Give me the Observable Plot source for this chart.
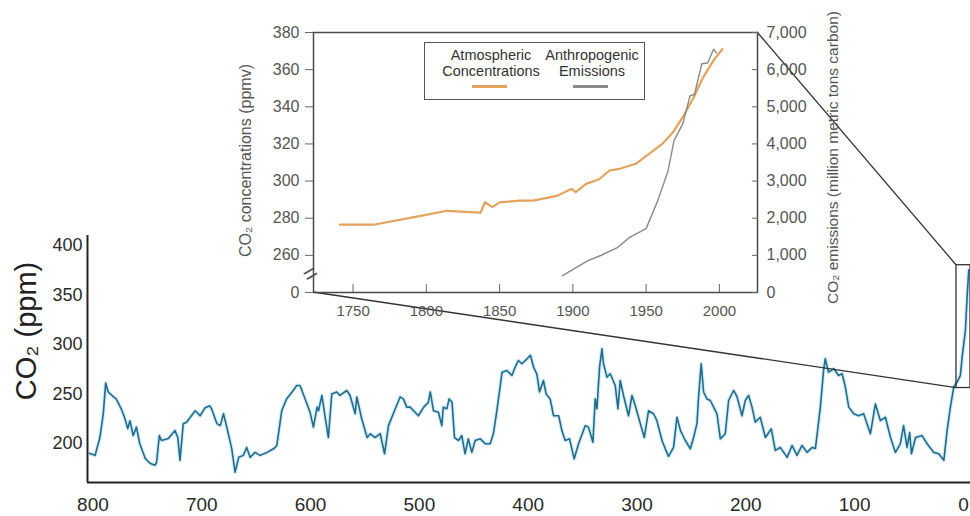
<!DOCTYPE html>
<html>
<head>
<meta charset="utf-8">
<script src="https://cdn.jsdelivr.net/npm/d3@7"></script>
<script src="https://cdn.jsdelivr.net/npm/@observablehq/plot@0.6"></script>
<style>
  body { margin: 0; background: #fff; font-family: "Liberation Sans", Arial, sans-serif; }
  #wrap { position: relative; width: 970px; height: 516px; overflow: hidden; background: #fff; }
  #main { position: absolute; left: 0; top: 0; }
  #inset { position: absolute; left: 230px; top: 0; }
  #legend { position: absolute; left: 424px; top: 42px; width: 221px; height: 58px; border: 1.5px solid #555;
            box-sizing: border-box; font-size: 14.5px; color: #333; background: transparent; }
  #legend .col { position: absolute; top: 4px; width: 104px; text-align: center; line-height: 16px; }
  #legend .sw { position: absolute; height: 2.5px; width: 35px; }
</style>
</head>
<body>
<div id="wrap">
  <div id="main"></div>
  <div id="inset"></div>
  <div id="legend"></div>
</div>
<script>
// ---- Main chart: ice-core CO2, thousands of years before present ----
const kyrBP = [803,798,793.6,790.5,788.3,786,781,778.6,774,771,768,766,763,760,757,752,747.6,743,741.5,739,737,730.7,724.6,722,720,717,714,706,701.5,697,692.5,691,686,683,680,677,672.5,669.4,666,661.8,658.7,655.6,651,646.4,640,634,631,626.5,622,617,612.7,609.7,605,600.5,597.4,594,592.7,589.6,586.6,583.6,580.5,576,573,566.7,563.7,559,557.5,553,548,545,540.7,536,532,528.4,524,517.7,514.7,511.6,508.5,500.9,496,491.7,490,487,482.5,479.4,478,474.8,472.6,470,467.7,464,461,458,455,451.8,448.7,444,439.5,435,432,428.8,424,419.6,415,412,409,405.8,401,398,395,392,389.6,386,383.5,379.8,376.7,372,369,366,362,357.7,353.7,347.6,344.6,340.5,338.4,336.8,334.4,332.2,330.8,327.6,324.6,320,317.5,315.4,312.4,307.8,304.6,301.6,298.6,293.3,289.4,284.8,281.7,277,274,271,266.4,263.3,260,255.6,251,248,244.9,243.4,241,238.8,235.7,232.6,229.6,226.5,223.4,218.9,215.8,211.2,208,203.5,200.5,197.4,194.3,191.3,186.7,182,176.6,172.9,168.3,162,157.5,153,148.3,143.7,139,136,131.5,128.5,127,124,119,114.7,111.5,108.5,105.4,100.8,96.3,91.7,85.5,80.9,76.3,71.7,67,62.5,58,55,51.8,49.4,47.8,44,38,33.4,27.2,22.7,18,15,12,8.9,5.8,2.8,1.2,-1.8,-3.4,-4.9];
const co2ppm = [190,188,206,230,261,252,247,245,235,226.5,215,223,208,216.5,200,185,180,178,181,208,203,205,213,206,183,220,221.5,233,228,236,238,235,220,218,230,216.5,195,171,186,188,196,186,191,188,191,194.6,198,233,245,252,258.6,258.6,245,231.6,216.5,236.7,233,248.5,226.5,206,250,252,248.5,253.5,248.5,230,247,225,206,209.8,206,210,189.6,218,230,247,245,236.7,236.7,228,236.7,241.7,252,233,231.6,218,236.7,235,245,241.7,206,203,208,189.6,204.7,191,203,204.7,199.7,199.7,209.8,233,272,273.7,268.7,277,283.8,280.5,285.5,289,277,270,252,263.6,250,245,228,228,213,203,204.7,184.5,199.7,218,216.5,201.3,245,235,277,295.6,280.5,267,270.4,258.6,235,263.6,248.5,228,248.5,238.4,226.5,206,233,230,223,203,194.6,187,196,226.5,213,203,194.6,206,220,247,280.5,252,245,243.4,236.7,230,204.7,209.8,243.4,253.5,247,228,243.4,248.5,236.7,221.5,226.5,206,214.8,193,196,186,198,188,198,191,196,195,236.7,274,285.5,272,275.4,268.7,270.4,257,236.7,230,228,230,209.8,240,223,226.5,206,191,199.7,218,196,211,189.6,206,208,199.7,191,189.6,183,213,236.7,257,262,268.7,287,314,348,375];
const mainXTicks = [800, 700, 600, 500, 400, 300, 200, 100, 0];
const mainYTicks = [200, 250, 300, 350, 400];
const mainXDomain = [805, -6.5];
const mainYDomain = [160.6, 410];
const zoomBox = {kyrFrom: 6.4, kyrTo: -6.5, ppmLow: 256, ppmHigh: 380};

// ---- Inset: 1750-2000 ----
const concYears = [1741,1764,1798,1814,1837,1840,1845,1850,1864,1873,1889,1899,1902,1909,1918,1925,1932,1943,1952,1961,1968,1975,1982,1989,1996,2002];
const concPpmv  = [276.5,276.5,281.5,284,283,288.6,286,288.5,289.5,289.5,292,295.8,294,298.5,301,305.7,306.6,309.3,314.7,320,326,334.4,344.3,356,365,371];
const emisYears = [1893,1910,1919,1930,1939,1950,1958,1965,1969,1975,1980,1983,1988,1992,1996,1998];
const emisMtC   = [457,850,996,1200,1490,1720,2480,3280,4090,4540,5300,5330,6160,6180,6550,6450];
const insetXTicks = [1750, 1800, 1850, 1900, 1950, 2000];
const insetPpmTicks = [240, 260, 280, 300, 320, 340, 360, 380];
const emisTicks = [0, 1000, 2000, 3000, 4000, 5000, 6000, 7000];
const seriesNames = [["Atmospheric", "Concentrations"], ["Anthropogenic", "Emissions"]];
const seriesColors = ["#e3a35a", "#8a8a8a"];
// dual axis: 7,000 MtC aligns with 380 ppmv, 0 aligns with the broken-axis "0" (240)
const emisToPpm = e => 240 + e / 50;
const ppmToEmis = p => (p - 240) * 50;

const font = '"Liberation Sans", Arial, sans-serif';
const mainData = kyrBP.map((k, i) => ({k, v: co2ppm[i]}));

const main = Plot.plot({
  width: 970, height: 516,
  marginLeft: 87, marginRight: 0, marginTop: 235, marginBottom: 34,
  style: {background: "white", fontFamily: font, color: "#2a2a2a", overflow: "visible"},
  x: {domain: mainXDomain, label: null},
  y: {domain: mainYDomain, label: null},
  marks: [
    Plot.line(mainData, {x: "k", y: "v", stroke: "#9fd8ef", strokeWidth: 4, strokeOpacity: 0.45}),
    Plot.line(mainData, {x: "k", y: "v", stroke: "#226b8b", strokeWidth: 1.6}),
    Plot.rect([zoomBox], {x1: "kyrFrom", x2: "kyrTo", y1: "ppmLow", y2: "ppmHigh", fill: "none", stroke: "#333", strokeWidth: 1.3}),
    Plot.ruleX([mainXDomain[0]], {stroke: "#222", strokeWidth: 2}),
    Plot.ruleY([mainYDomain[0]], {stroke: "#222", strokeWidth: 2}),
    Plot.axisX(mainXTicks, {tickSize: 0, tickPadding: 15, fontSize: 19, label: null, fill: "#2a2a2a", tickFormat: d => String(d)}),
    Plot.axisY(mainYTicks, {tickSize: 0, tickPadding: 5, fontSize: 18, label: null, fill: "#2a2a2a"}),
    Plot.text(["CO₂ (ppm)"], {frameAnchor: "left", textAnchor: "middle", rotate: -90, dx: -61, dy: -28, fontSize: 29, fill: "#222"})
  ]
});
document.getElementById("main").appendChild(main);

const concData = concYears.map((y, i) => ({year: y, ppm: concPpmv[i]}));
const emisData = emisYears.map((y, i) => ({year: y, mtc: emisMtC[i]}));
const insetLeft = 230, insetTop = 0;

const inset = Plot.plot({
  width: 620, height: 320,
  marginLeft: 83, marginRight: 93, marginTop: 32, marginBottom: 28,
  style: {background: "transparent", fontFamily: font, color: "#555", overflow: "visible"},
  x: {domain: [1723, 2026], label: null},
  y: {domain: [240, 380], label: null},
  marks: [
    Plot.frame({stroke: "#4a4a4a", strokeWidth: 1.5}),
    Plot.line(concData, {x: "year", y: "ppm", stroke: seriesColors[0], strokeWidth: 2.2}),
    Plot.line(emisData, {x: "year", y: d => emisToPpm(d.mtc), stroke: seriesColors[1], strokeWidth: 1.4}),
    Plot.axisX(insetXTicks, {tickSize: 8, dy: -8, text: null, stroke: "#666", label: null}),
    Plot.axisX(insetXTicks, {tickSize: 0, tickPadding: 13, fontSize: 15, fill: "#555", label: null, tickFormat: d => String(d)}),
    Plot.axisY(insetPpmTicks, {anchor: "left", tickSize: 8, tickPadding: 6, fontSize: 16, fill: "#555", stroke: "#666",
      tickFormat: d => d === 240 ? "0" : String(d), label: null}),
    Plot.axisY(emisTicks.map(emisToPpm), {anchor: "right", tickSize: 6, dx: -6, text: null, stroke: "#666", label: null}),
    Plot.axisY(emisTicks.map(emisToPpm), {anchor: "right", tickSize: 0, tickPadding: 9, fontSize: 16, fill: "#555",
      tickFormat: d => d3.format(",")(ppmToEmis(d)), label: null}),
    Plot.text([250], {y: d => d, frameAnchor: "left", textAnchor: "middle", text: () => "=", rotate: -30, fontSize: 24, fill: "#555", dx: -3}),
    Plot.text(["CO₂ concentrations (ppmv)"], {frameAnchor: "left", textAnchor: "middle", rotate: -90, dx: -68, dy: -2, fontSize: 16, fill: "#555"}),
    Plot.text(["CO₂ emissions (million metric tons carbon)"], {frameAnchor: "right", textAnchor: "middle", rotate: -90, dx: 76, dy: -5, fontSize: 15.5, fill: "#555"})
  ]
});
document.getElementById("inset").appendChild(inset);

// connector lines from the inset frame to the zoom box on the main chart
const ix = inset.scale("x"), iy = inset.scale("y");
const mx = main.scale("x"), my = main.scale("y");
const insetTR = [insetLeft + ix.range[1], insetTop + iy.range[1]];
const insetBL = [insetLeft + ix.range[0], insetTop + iy.range[0]];
const boxTL = [mx.apply(zoomBox.kyrFrom), my.apply(zoomBox.ppmHigh)];
const boxBL = [mx.apply(zoomBox.kyrFrom), my.apply(zoomBox.ppmLow)];
const g = d3.select(main).append("g").attr("stroke", "#333").attr("stroke-width", 1.3);
[[insetTR, boxTL], [insetBL, boxBL]].forEach(([a, b]) => {
  g.append("line").attr("x1", a[0]).attr("y1", a[1]).attr("x2", b[0]).attr("y2", b[1]);
});

// legend inside the inset
const legend = document.getElementById("legend");
const colLeft = [14, 115];
seriesNames.forEach((lines, i) => {
  const col = document.createElement("div");
  col.className = "col";
  col.style.left = colLeft[i] + "px";
  col.innerHTML = lines.join("<br>");
  legend.appendChild(col);
  const sw = document.createElement("div");
  sw.className = "sw";
  sw.style.left = (colLeft[i] + 33) + "px";
  sw.style.top = "42px";
  sw.style.background = seriesColors[i];
  legend.appendChild(sw);
});
</script>
</body>
</html>
